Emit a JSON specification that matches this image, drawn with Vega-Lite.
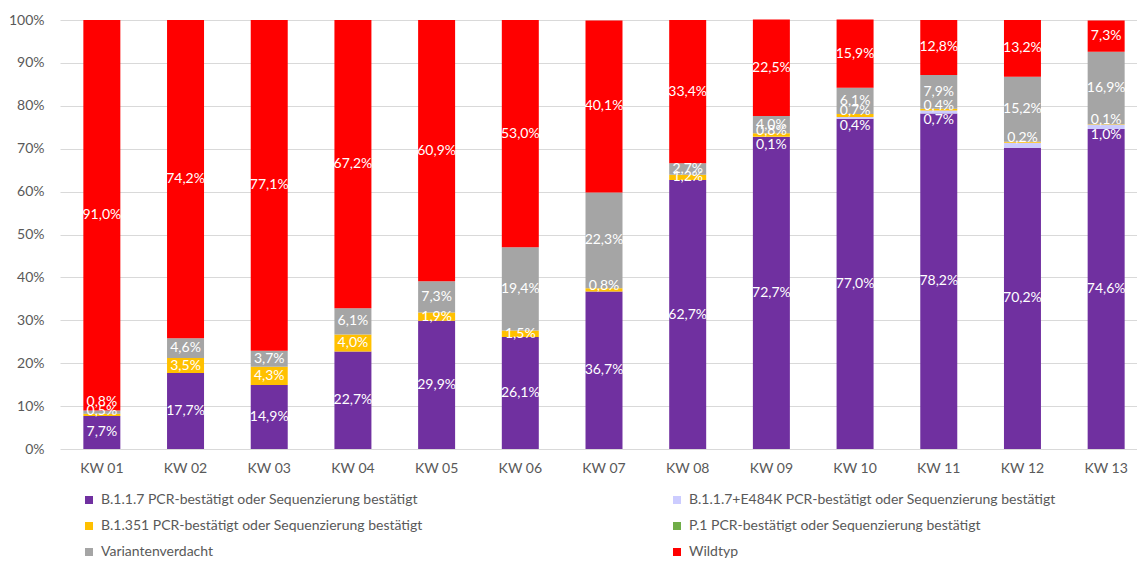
{
  "$schema": "https://vega.github.io/schema/vega-lite/v6.json",
  "width": 1077,
  "height": 429,
  "autosize": {"type": "none"},
  "padding": {"left": 60, "top": 20, "right": 0, "bottom": 112},
  "background": "white",
  "config": {"font": "Lato", "view": {"stroke": null}},
  "data": {"values": [
    {"kw": "KW 01", "s": "B.1.1.7 PCR-bestätigt oder Sequenzierung bestätigt", "v": 7.7, "l": "7,7%"},
    {"kw": "KW 01", "s": "B.1.351 PCR-bestätigt oder Sequenzierung bestätigt", "v": 0.5, "l": "0,5%"},
    {"kw": "KW 01", "s": "Variantenverdacht", "v": 0.8, "l": "0,8%"},
    {"kw": "KW 01", "s": "Wildtyp", "v": 91.0, "l": "91,0%"},
    {"kw": "KW 02", "s": "B.1.1.7 PCR-bestätigt oder Sequenzierung bestätigt", "v": 17.7, "l": "17,7%"},
    {"kw": "KW 02", "s": "B.1.351 PCR-bestätigt oder Sequenzierung bestätigt", "v": 3.5, "l": "3,5%"},
    {"kw": "KW 02", "s": "Variantenverdacht", "v": 4.6, "l": "4,6%"},
    {"kw": "KW 02", "s": "Wildtyp", "v": 74.2, "l": "74,2%"},
    {"kw": "KW 03", "s": "B.1.1.7 PCR-bestätigt oder Sequenzierung bestätigt", "v": 14.9, "l": "14,9%"},
    {"kw": "KW 03", "s": "B.1.351 PCR-bestätigt oder Sequenzierung bestätigt", "v": 4.3, "l": "4,3%"},
    {"kw": "KW 03", "s": "Variantenverdacht", "v": 3.7, "l": "3,7%"},
    {"kw": "KW 03", "s": "Wildtyp", "v": 77.1, "l": "77,1%"},
    {"kw": "KW 04", "s": "B.1.1.7 PCR-bestätigt oder Sequenzierung bestätigt", "v": 22.7, "l": "22,7%"},
    {"kw": "KW 04", "s": "B.1.351 PCR-bestätigt oder Sequenzierung bestätigt", "v": 4.0, "l": "4,0%"},
    {"kw": "KW 04", "s": "Variantenverdacht", "v": 6.1, "l": "6,1%"},
    {"kw": "KW 04", "s": "Wildtyp", "v": 67.2, "l": "67,2%"},
    {"kw": "KW 05", "s": "B.1.1.7 PCR-bestätigt oder Sequenzierung bestätigt", "v": 29.9, "l": "29,9%"},
    {"kw": "KW 05", "s": "B.1.351 PCR-bestätigt oder Sequenzierung bestätigt", "v": 1.9, "l": "1,9%"},
    {"kw": "KW 05", "s": "Variantenverdacht", "v": 7.3, "l": "7,3%"},
    {"kw": "KW 05", "s": "Wildtyp", "v": 60.9, "l": "60,9%"},
    {"kw": "KW 06", "s": "B.1.1.7 PCR-bestätigt oder Sequenzierung bestätigt", "v": 26.1, "l": "26,1%"},
    {"kw": "KW 06", "s": "B.1.351 PCR-bestätigt oder Sequenzierung bestätigt", "v": 1.5, "l": "1,5%"},
    {"kw": "KW 06", "s": "Variantenverdacht", "v": 19.4, "l": "19,4%"},
    {"kw": "KW 06", "s": "Wildtyp", "v": 53.0, "l": "53,0%"},
    {"kw": "KW 07", "s": "B.1.1.7 PCR-bestätigt oder Sequenzierung bestätigt", "v": 36.7, "l": "36,7%"},
    {"kw": "KW 07", "s": "B.1.351 PCR-bestätigt oder Sequenzierung bestätigt", "v": 0.8, "l": "0,8%"},
    {"kw": "KW 07", "s": "Variantenverdacht", "v": 22.3, "l": "22,3%"},
    {"kw": "KW 07", "s": "Wildtyp", "v": 40.1, "l": "40,1%"},
    {"kw": "KW 08", "s": "B.1.1.7 PCR-bestätigt oder Sequenzierung bestätigt", "v": 62.7, "l": "62,7%"},
    {"kw": "KW 08", "s": "B.1.351 PCR-bestätigt oder Sequenzierung bestätigt", "v": 1.2, "l": "1,2%"},
    {"kw": "KW 08", "s": "Variantenverdacht", "v": 2.7, "l": "2,7%"},
    {"kw": "KW 08", "s": "Wildtyp", "v": 33.4, "l": "33,4%"},
    {"kw": "KW 09", "s": "B.1.1.7 PCR-bestätigt oder Sequenzierung bestätigt", "v": 72.7, "l": "72,7%"},
    {"kw": "KW 09", "s": "B.1.1.7+E484K PCR-bestätigt oder Sequenzierung bestätigt", "v": 0.1, "l": "0,1%"},
    {"kw": "KW 09", "s": "B.1.351 PCR-bestätigt oder Sequenzierung bestätigt", "v": 0.8, "l": "0,8%"},
    {"kw": "KW 09", "s": "Variantenverdacht", "v": 4.0, "l": "4,0%"},
    {"kw": "KW 09", "s": "Wildtyp", "v": 22.5, "l": "22,5%"},
    {"kw": "KW 10", "s": "B.1.1.7 PCR-bestätigt oder Sequenzierung bestätigt", "v": 77.0, "l": "77,0%"},
    {"kw": "KW 10", "s": "B.1.1.7+E484K PCR-bestätigt oder Sequenzierung bestätigt", "v": 0.4, "l": "0,4%"},
    {"kw": "KW 10", "s": "B.1.351 PCR-bestätigt oder Sequenzierung bestätigt", "v": 0.7, "l": "0,7%"},
    {"kw": "KW 10", "s": "Variantenverdacht", "v": 6.1, "l": "6,1%"},
    {"kw": "KW 10", "s": "Wildtyp", "v": 15.9, "l": "15,9%"},
    {"kw": "KW 11", "s": "B.1.1.7 PCR-bestätigt oder Sequenzierung bestätigt", "v": 78.2, "l": "78,2%"},
    {"kw": "KW 11", "s": "B.1.1.7+E484K PCR-bestätigt oder Sequenzierung bestätigt", "v": 0.7, "l": "0,7%"},
    {"kw": "KW 11", "s": "B.1.351 PCR-bestätigt oder Sequenzierung bestätigt", "v": 0.4, "l": "0,4%"},
    {"kw": "KW 11", "s": "Variantenverdacht", "v": 7.9, "l": "7,9%"},
    {"kw": "KW 11", "s": "Wildtyp", "v": 12.8, "l": "12,8%"},
    {"kw": "KW 12", "s": "B.1.1.7 PCR-bestätigt oder Sequenzierung bestätigt", "v": 70.2, "l": "70,2%"},
    {"kw": "KW 12", "s": "B.1.1.7+E484K PCR-bestätigt oder Sequenzierung bestätigt", "v": 1.2, "l": ""},
    {"kw": "KW 12", "s": "B.1.351 PCR-bestätigt oder Sequenzierung bestätigt", "v": 0.2, "l": "0,2%"},
    {"kw": "KW 12", "s": "Variantenverdacht", "v": 15.2, "l": "15,2%"},
    {"kw": "KW 12", "s": "Wildtyp", "v": 13.2, "l": "13,2%"},
    {"kw": "KW 13", "s": "B.1.1.7 PCR-bestätigt oder Sequenzierung bestätigt", "v": 74.6, "l": "74,6%"},
    {"kw": "KW 13", "s": "B.1.1.7+E484K PCR-bestätigt oder Sequenzierung bestätigt", "v": 1.0, "l": "1,0%"},
    {"kw": "KW 13", "s": "B.1.351 PCR-bestätigt oder Sequenzierung bestätigt", "v": 0.1, "l": "0,1%"},
    {"kw": "KW 13", "s": "Variantenverdacht", "v": 16.9, "l": "16,9%"},
    {"kw": "KW 13", "s": "Wildtyp", "v": 7.3, "l": "7,3%"}
  ]},
  "transform": [
    {"stack": "v", "groupby": ["kw"], "sort": [{"field": "s", "order": "ascending"}], "as": ["v0", "v1"]},
    {"calculate": "(datum.v0 + datum.v1) / 2", "as": "vm"}
  ],
  "encoding": {
    "x": {
      "field": "kw", "type": "nominal",
      "scale": {"range": [0, 1088], "paddingInner": 0.558, "paddingOuter": 0.279},
      "axis": {"title": null, "labelAngle": 0, "domain": false, "ticks": false, "labelPadding": 12, "labelFontSize": 14, "labelColor": "#595959", "grid": false}
    }
  },
  "layer": [
    {
      "mark": {"type": "bar"},
      "encoding": {
        "y": {
          "field": "v0", "type": "quantitative",
          "scale": {"domain": [0, 100], "nice": false},
          "axis": {"title": null, "values": [0, 10, 20, 30, 40, 50, 60, 70, 80, 90, 100], "labelExpr": "datum.value + '%'", "domain": false, "ticks": false, "labelPadding": 16, "labelFontSize": 14, "labelColor": "#595959", "grid": true, "gridColor": "#d9d9d9", "gridWidth": 1}
        },
        "y2": {"field": "v1"},
        "color": {
          "field": "s", "type": "nominal",
          "scale": {
            "domain": ["B.1.1.7 PCR-bestätigt oder Sequenzierung bestätigt", "B.1.1.7+E484K PCR-bestätigt oder Sequenzierung bestätigt", "B.1.351 PCR-bestätigt oder Sequenzierung bestätigt", "P.1 PCR-bestätigt oder Sequenzierung bestätigt", "Variantenverdacht", "Wildtyp"],
            "range": ["#7030A0", "#CCCCFF", "#FFC000", "#70AD47", "#A5A5A5", "#FF0000"]
          },
          "legend": {
            "title": null, "orient": "none", "legendX": 22, "legendY": 473, "direction": "horizontal", "columns": 2, "columnPadding": 247, "rowPadding": 12,
            "symbolType": "square", "symbolSize": 64, "symbolStrokeWidth": 0, "labelOffset": 5,
            "labelFontSize": 14, "labelColor": "#595959", "labelLimit": 600, "padding": 0
          }
        }
      }
    },
    {
      "transform": [{"filter": "datum.s != 'B.1.1.7+E484K PCR-bestätigt oder Sequenzierung bestätigt' && !(datum.v < 1 && (datum.s == 'B.1.351 PCR-bestätigt oder Sequenzierung bestätigt' || datum.s == 'Variantenverdacht'))"}],
      "mark": {"type": "text", "color": "white", "fontSize": 14, "baseline": "middle"},
      "encoding": {
        "y": {"field": "vm", "type": "quantitative"},
        "text": {"field": "l"}
      }
    },
    {
      "transform": [{"filter": "datum.s == 'B.1.1.7+E484K PCR-bestätigt oder Sequenzierung bestätigt'"}],
      "mark": {"type": "text", "color": "white", "fontSize": 14, "baseline": "middle", "dy": 8},
      "encoding": {
        "y": {"field": "vm", "type": "quantitative"},
        "text": {"field": "l"}
      }
    },
    {
      "transform": [{"filter": "datum.s == 'B.1.351 PCR-bestätigt oder Sequenzierung bestätigt' && datum.v < 1"}],
      "mark": {"type": "text", "color": "white", "fontSize": 14, "baseline": "middle", "dy": -4},
      "encoding": {
        "y": {"field": "vm", "type": "quantitative"},
        "text": {"field": "l"}
      }
    },
    {
      "transform": [{"filter": "datum.s == 'Variantenverdacht' && datum.v < 1"}],
      "mark": {"type": "text", "color": "white", "fontSize": 14, "baseline": "middle", "dy": -10},
      "encoding": {
        "y": {"field": "vm", "type": "quantitative"},
        "text": {"field": "l"}
      }
    }
  ]
}
